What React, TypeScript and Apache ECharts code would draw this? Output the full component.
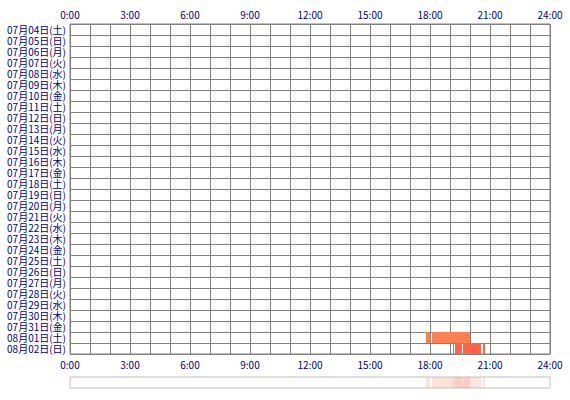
import { useEffect, useRef } from 'react'
import * as echarts from 'echarts'

// Dates shown on the rows (top to bottom)
const dates = [
  '07月04日(土)', '07月05日(日)', '07月06日(月)', '07月07日(火)', '07月08日(水)',
  '07月09日(木)', '07月10日(金)', '07月11日(土)', '07月12日(日)', '07月13日(月)',
  '07月14日(火)', '07月15日(水)', '07月16日(木)', '07月17日(金)', '07月18日(土)',
  '07月19日(日)', '07月20日(月)', '07月21日(火)', '07月22日(水)', '07月23日(木)',
  '07月24日(金)', '07月25日(土)', '07月26日(日)', '07月27日(月)', '07月28日(火)',
  '07月29日(水)', '07月30日(木)', '07月31日(金)', '08月01日(土)', '08月02日(日)'
]

// Active periods in hours [start, end]
const aug01Sessions = [
  [17.8, 18.0],
  [18.1, 20.0]
]
const aug02Sessions = [
  [19.15, 19.2],
  [19.25, 19.6],
  [19.65, 20.55],
  [20.65, 20.75]
]

const hourTicks = [0, 3, 6, 9, 12, 15, 18, 21, 24]

const labelColor = '#000080'
const lineColor = '#808080'
const font = '"Noto Sans CJK JP", sans-serif'

export default function App(): JSX.Element {
  const chartRef = useRef<HTMLDivElement>(null)

  useEffect(() => {
    if (!chartRef.current) return
    document.body.style.margin = '0'
    const chart = echarts.init(chartRef.current, null, { renderer: 'svg' })

    const renderBar = (params: any, api: any) => {
      const start = api.coord([api.value(0), api.value(2)])
      const end = api.coord([api.value(1), api.value(2)])
      const h = api.size([0, 1])[1]
      return {
        type: 'rect',
        shape: { x: start[0], y: start[1] - h / 2, width: end[0] - start[0], height: h },
        style: { fill: api.visual('color') }
      }
    }

    const rowIndex = (label: string) => dates.indexOf(label)
    const toData = (sessions: number[][], row: number) =>
      sessions.map(([s, e]) => [s, e, row])

    const xBase = {
      type: 'value' as const,
      min: 0,
      max: 24,
      interval: 3,
      axisTick: { show: false },
      axisLine: { show: false },
      axisLabel: {
        color: labelColor,
        fontSize: 10,
        lineHeight: 10,
        fontFamily: font,
        formatter: (v: number) => (hourTicks.includes(v) ? `${v}:00` : '')
      }
    }

    chart.setOption({
      animation: false,
      backgroundColor: '#ffffff',
      grid: [
        { left: 70, top: 24, width: 480, height: 330, show: true, borderColor: lineColor, borderWidth: 1 },
        { left: 70, top: 377, width: 480, height: 11, show: true, borderColor: '#c0c0c0', borderWidth: 1 }
      ],
      xAxis: [
        {
          ...xBase,
          gridIndex: 0,
          position: 'top',
          axisLabel: { ...xBase.axisLabel, margin: 5 },
          splitLine: { show: true, lineStyle: { color: lineColor, width: 1 } },
          minorTick: { show: false, splitNumber: 3 },
          minorSplitLine: { show: true, lineStyle: { color: lineColor, width: 1 } }
        },
        {
          ...xBase,
          gridIndex: 0,
          position: 'bottom',
          axisLabel: { ...xBase.axisLabel, margin: 5 },
          splitLine: { show: false }
        },
        {
          ...xBase,
          gridIndex: 1,
          axisLabel: { show: false },
          splitLine: { show: false }
        }
      ],
      yAxis: [
        {
          type: 'category',
          gridIndex: 0,
          data: dates,
          inverse: true,
          axisTick: { show: false },
          axisLine: { show: false },
          axisLabel: {
            interval: 0,
            color: labelColor,
            fontSize: 10,
            lineHeight: 10,
            fontFamily: font,
            margin: 4
          },
          splitLine: { show: true, interval: 0, lineStyle: { color: lineColor, width: 1 } }
        },
        {
          type: 'category',
          gridIndex: 1,
          data: ['all'],
          axisTick: { show: false },
          axisLine: { show: false },
          axisLabel: { show: false },
          splitLine: { show: false }
        }
      ],
      series: [
        {
          type: 'custom',
          xAxisIndex: 0,
          yAxisIndex: 0,
          renderItem: renderBar,
          encode: { x: [0, 1], y: 2 },
          itemStyle: { color: '#ff7f50' },
          data: toData(aug01Sessions, rowIndex('08月01日(土)')),
          z: 1
        },
        {
          type: 'custom',
          xAxisIndex: 0,
          yAxisIndex: 0,
          renderItem: renderBar,
          encode: { x: [0, 1], y: 2 },
          itemStyle: { color: '#ff6347' },
          data: toData(aug02Sessions, rowIndex('08月02日(日)')),
          z: 1
        },
        {
          type: 'custom',
          xAxisIndex: 2,
          yAxisIndex: 1,
          renderItem: renderBar,
          encode: { x: [0, 1], y: 2 },
          itemStyle: { color: 'rgba(255, 127, 80, 0.22)' },
          data: toData(aug01Sessions, 0)
        },
        {
          type: 'custom',
          xAxisIndex: 2,
          yAxisIndex: 1,
          renderItem: renderBar,
          encode: { x: [0, 1], y: 2 },
          itemStyle: { color: 'rgba(255, 99, 71, 0.18)' },
          data: toData(aug02Sessions, 0)
        }
      ]
    })

    return () => {
      chart.dispose()
    }
  }, [])

  return <div ref={chartRef} style={{ width: 570, height: 400 }} />
}
